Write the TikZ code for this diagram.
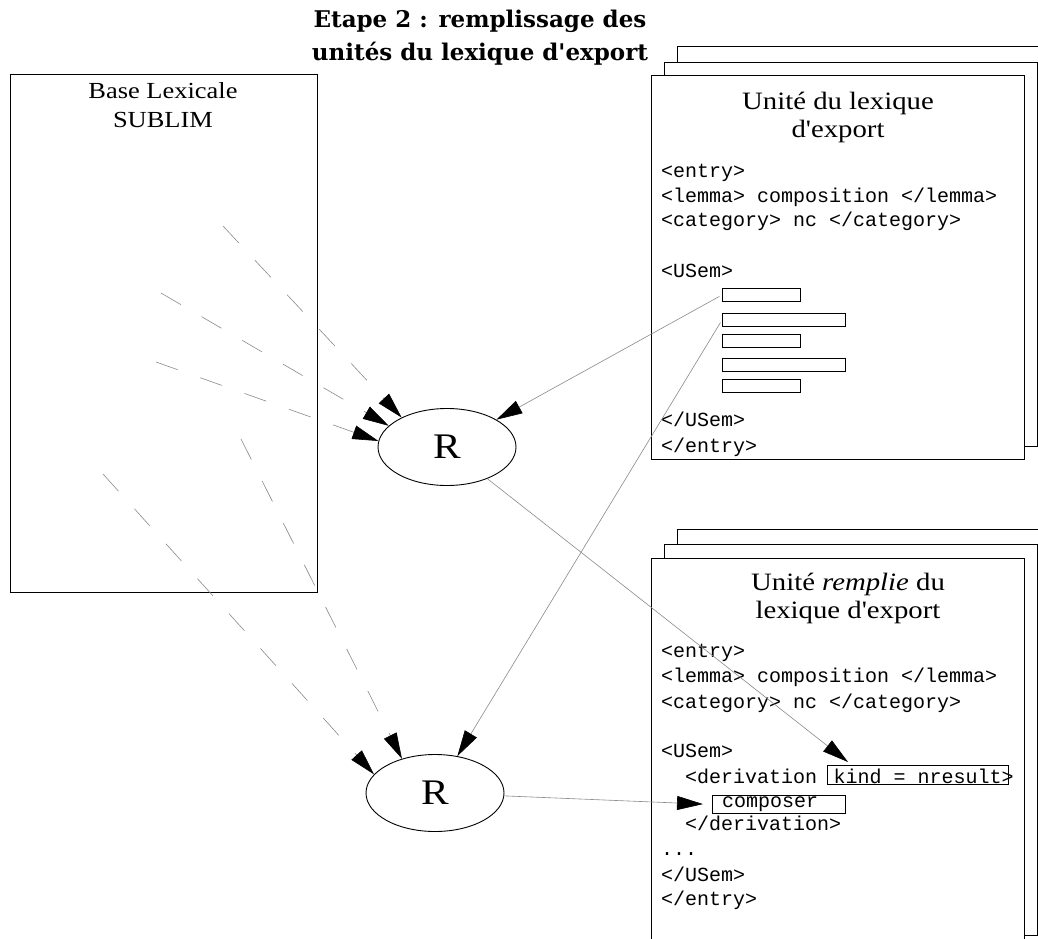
\documentclass[tikz,border=0pt]{standalone}
\usepackage{fontspec}
\setmainfont{Liberation Serif}[FakeStretch=1.15,Ligatures=TeXOff]
\newfontfamily\codefont{Liberation Mono}
\newfontfamily\headfont{DejaVu Serif}[Ligatures=TeXOff]
\usetikzlibrary{arrows.meta,positioning,shapes.geometric}
\definecolor{wire}{HTML}{8A8A8A}

\begin{document}
\begin{tikzpicture}[x=1pt,y=-1pt,
  page/.style={draw,fill=white,line width=1pt,anchor=north west,
               minimum width=373pt,minimum height=384pt,inner sep=0pt},
  slot/.style={draw,line width=0.9pt,anchor=north west,minimum height=13pt,inner sep=0pt},
  code/.style={font=\fontsize{20}{24}\codefont,anchor=base west,inner sep=0pt},
  ptitle/.style={font=\fontsize{25}{28}\selectfont,align=center,anchor=base,inner sep=0pt},
  rnode/.style={ellipse,draw,line width=0.9pt,minimum width=138pt,minimum height=77pt,
                inner sep=0pt,font=\fontsize{36}{36}\selectfont},
  link/.style={draw=wire,line width=0.6pt,-{Triangle[length=26pt,width=14pt,black]}},
  feed/.style={link,dash pattern=on 23pt off 24pt}
]
\useasboundingbox (0,0) rectangle (1038,939);
\clip (0,0) rectangle (1038,939);
\fill[white] (0,0) rectangle (1038,939);

% titre
\node[font=\fontsize{23}{33}\headfont\bfseries,align=center] (etape) at (480,38)
  {Etape 2 : remplissage des\\unités du lexique d'export};

% base lexicale
\node[draw,line width=1pt,anchor=north west,minimum width=307pt,minimum height=518pt,
      inner sep=0pt] (base) at (10,74) {};
\node[font=\fontsize{23}{29}\selectfont,anchor=base,inner sep=0pt] (baset) at (163,99)
  {Base Lexicale};
\node[font=\fontsize{23}{29}\selectfont,anchor=base,inner sep=0pt] (basen) at (163,128)
  {SUBLIM};

% unite du lexique d'export
\node[page] (u1c) at (677,46) {};
\node[page] (u1b) at (664,62) {};
\node[page] (u1) at (651,75) {};
\node[ptitle] (u1t) at (838,110) {Unité du lexique};
\node[ptitle] (u1t2) at (838,138) {d'export};
\node[code] (u1e) at (661,177) {<entry>};
\node[code] (u1l) at (661,202) {<lemma> composition </lemma>};
\node[code] (u1k) at (661,226) {<category> nc </category>};
\node[code] (u1s) at (661,277) {<USem>};
\foreach \y/\w [count=\i] in {288/78,313/123,334/78,358/123,379/78}
  \node[slot,minimum width=\w pt] (s\i) at (722,\y) {};
\node[code] (u1se) at (661,426) {</USem>};
\node[code] (u1ee) at (661,452) {</entry>};

% unite remplie
\node[page,minimum height=420pt] (u2c) at (677,529) {};
\node[page,minimum height=391pt] (u2b) at (664,544) {};
\node[page,minimum height=420pt] (u2) at (651,558) {};
\node[ptitle] (u2t) at (848,590) {Unité \textit{remplie} du};
\node[ptitle] (u2t2) at (848,618) {lexique d'export};
\node[code] (u2e) at (661,657) {<entry>};
\node[code] (u2l) at (661,682) {<lemma> composition </lemma>};
\node[code] (u2k) at (661,708) {<category> nc </category>};
\node[code] (u2s) at (661,757) {<USem>};
\node[code] (u2d) at (685,783) {<derivation};
\node[slot,minimum width=181pt,minimum height=19pt] (kind) at (827,765) {};
\node[code] (kindt) at ([xshift=16pt]u2d.base east) {kind = nresult>};
\node[slot,minimum width=133pt,minimum height=18pt] (comp) at (712,795) {};
\node[code] (compt) at (722,807) {composer};
\node[code] (u2de) at (685,830) {</derivation>};
\node[code] (u2p) at (661,855) {...};
\node[code] (u2se) at (661,881) {</USem>};
\node[code] (u2ee) at (661,905) {</entry>};

% regles
\node[rnode] (R1) at (447,447) {R};
\node[rnode] (R2) at (435,793) {R};

% entrees depuis la base
\coordinate (fa) at (223,226);
\coordinate (fb) at (161,293);
\coordinate (fc) at (156,362);
\coordinate (fd) at (103,474);
\coordinate (fe) at (241,439);
\draw[feed] (fa) -- (R1.147);
\draw[feed] (fb) -- (R1.160);
\draw[feed] (fc) -- (R1.175);
\draw[feed] (fd) -- (R2.163);
\draw[feed] (fe) -- (R2.134);

% liens
\coordinate (kt) at ([xshift=21pt,yshift=3pt]kind.north west);
\draw[link,shorten <=3pt] (s1.west) -- (R1);
\draw[link,shorten <=3pt] (s2.west) -- (R2);
\draw[link] (R1) -- (kt);
\draw[link,shorten >=9pt] (R2) -- (comp.west);
\end{tikzpicture}
\end{document}
